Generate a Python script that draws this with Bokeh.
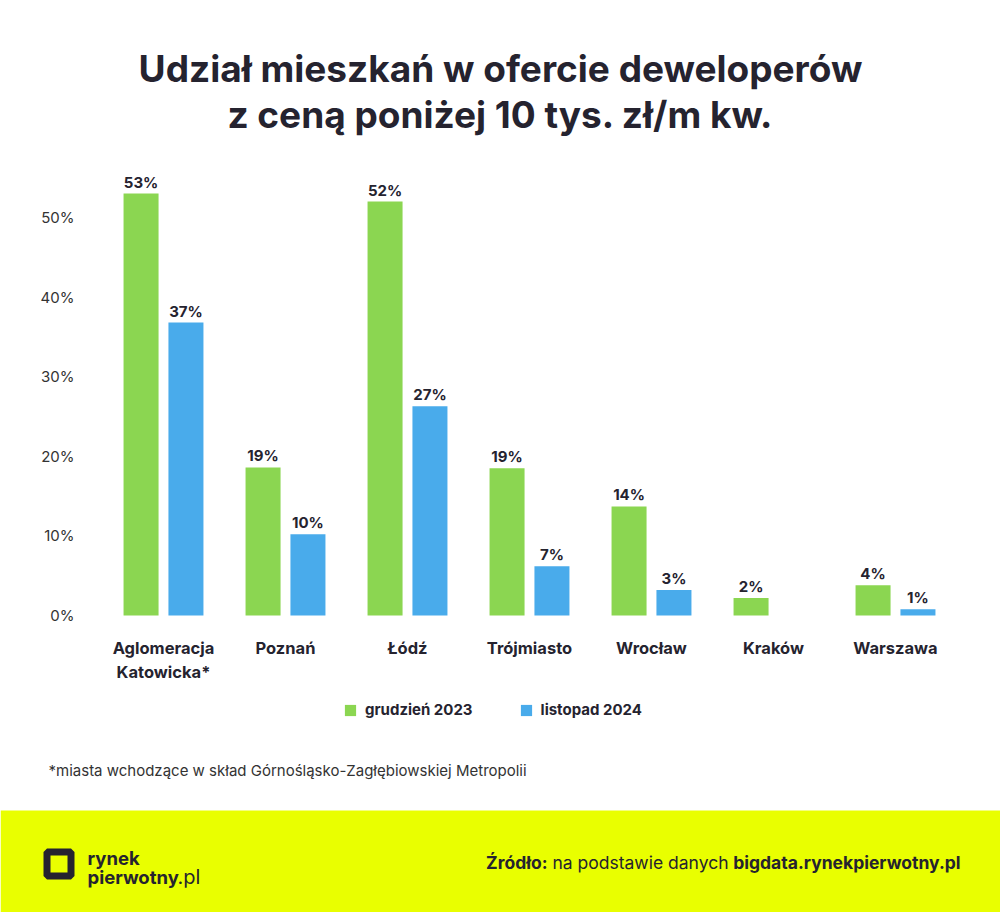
import numpy as np
from bokeh.plotting import figure
from bokeh.models import (ColumnDataSource, Range1d, FixedTicker, PrintfTickFormatter,
                          Label, LabelSet, Legend, LegendItem, BoxAnnotation)
from bokeh.core.properties import value
from bokeh.embed import file_html
from bokeh.resources import INLINE

# ---------------- data ----------------
title_lines = ["Udział mieszkań w ofercie deweloperów", "z ceną poniżej 10 tys. zł/m kw."]
cities = ["Aglomeracja\nKatowicka*", "Poznań", "Łódź", "Trójmiasto", "Wrocław", "Kraków", "Warszawa"]
dec_2023 = [53.0, 18.6, 52.0, 18.5, 13.7, 2.2, 3.8]
nov_2024 = [36.8, 10.2, 26.3, 6.2, 3.2, 0.0, 0.8]
dec_2023_labels = ["53%", "19%", "52%", "19%", "14%", "2%", "4%"]
nov_2024_labels = ["37%", "10%", "27%", "7%", "3%", "", "1%"]
series_names = ["grudzień 2023", "listopad 2024"]
y_ticks = [0, 10, 20, 30, 40, 50]
footnote = "*miasta wchodzące w skład Górnośląsko-Zagłębiowskiej Metropolii"
source_parts = ["Źródło:", "na podstawie danych", "bigdata.rynekpierwotny.pl"]
logo_parts = ["rynek", "pierwotny", ".pl"]

# ---------------- layout / style ----------------
W, H = 1000, 912
FONT = "Inter"
GREEN = "#8BD651"
BLUE = "#49ABEB"
DARK = "#25232F"
YELLOW = "#E9FF00"

PX_X = 122.0      # pixels per category
PX_Y = 7.96       # pixels per percentage point
LEFT0 = 102.0     # pixel x of the first category's left edge
BASE = 615.0      # pixel y of 0 %

def sy(page_y):
    return H - page_y

n = len(cities)
centers = np.arange(n) + 0.5
OFF = 0.184
BW = 0.287

src = ColumnDataSource(dict(xa=centers - OFF, xb=centers + OFF, a=dec_2023, b=nov_2024,
                            la=dec_2023_labels, lb=nov_2024_labels))

p = figure(width=W, height=H,
           x_range=Range1d(-LEFT0 / PX_X, (W - LEFT0) / PX_X),
           y_range=Range1d(-(H - BASE) / PX_Y, BASE / PX_Y),
           output_backend="svg", toolbar_location=None, min_border=0)
p.title.visible = False
p.outline_line_color = None
p.xgrid.grid_line_color = None
p.ygrid.grid_line_color = None
p.background_fill_color = "white"
p.border_fill_color = "white"

r1 = p.vbar(x="xa", top="a", width=BW, source=src, fill_color=GREEN, line_color=None)
r2 = p.vbar(x="xb", top="b", width=BW, source=src, fill_color=BLUE, line_color=None)

for xc, col, lab in (("xa", "a", "la"), ("xb", "b", "lb")):
    p.add_layout(LabelSet(x=xc, y=col, text=lab, source=src, y_offset=6,
                          text_align="center", text_baseline="alphabetic",
                          text_font=value(FONT), text_font_style="bold",
                          text_font_size="15px", text_color=DARK))

# axes (fixed at the data origin)
ya = p.yaxis[0]
ya.fixed_location = 0
ya.ticker = FixedTicker(ticks=y_ticks)
ya.formatter = PrintfTickFormatter(format="%d%%")
ya.axis_line_color = None
ya.major_tick_line_color = None
ya.minor_tick_line_color = None
ya.major_tick_out = 0
ya.major_tick_in = 0
ya.major_label_standoff = 28
ya.major_label_text_font = FONT
ya.major_label_text_font_size = "15px"
ya.major_label_text_color = "#333333"

xa = p.xaxis[0]
xa.fixed_location = 0
xa.ticker = FixedTicker(ticks=list(centers))
xa.major_label_overrides = {float(c): name for c, name in zip(centers, cities)}
xa.axis_line_color = None
xa.major_tick_line_color = None
xa.minor_tick_line_color = None
xa.major_tick_out = 0
xa.major_tick_in = 0
xa.major_label_standoff = 22
xa.major_label_text_font = FONT
xa.major_label_text_font_size = "16.5px"
xa.major_label_text_font_style = "bold"
xa.major_label_text_color = DARK

# title
for txt, y in zip(title_lines, (68, 114)):
    p.add_layout(Label(x=500, y=sy(y), x_units="screen", y_units="screen", text=txt,
                       text_align="center", text_baseline="alphabetic",
                       text_font=FONT, text_font_style="bold", text_font_size="37px",
                       text_color=DARK))

# legend
legend = Legend(items=[LegendItem(label=series_names[0], renderers=[r1]),
                       LegendItem(label=series_names[1], renderers=[r2])],
                location=(343, sy(719)), orientation="horizontal",
                glyph_width=14, glyph_height=14, label_height=14,
                label_standoff=8, spacing=46, padding=0, margin=0,
                border_line_color=None, background_fill_alpha=0,
                label_text_font=FONT, label_text_font_size="15px",
                label_text_font_style="bold", label_text_color=DARK)
p.add_layout(legend, "center")

# footnote
p.add_layout(Label(x=48, y=sy(770), x_units="screen", y_units="screen", text=footnote,
                   text_align="left", text_baseline="middle", text_font=FONT,
                   text_font_size="15px", text_color="#333333"))

# ---------------- footer band ----------------
p.add_layout(BoxAnnotation(left=0, right=W, bottom=0, top=sy(810),
                           left_units="screen", right_units="screen",
                           bottom_units="screen", top_units="screen",
                           fill_color=YELLOW, fill_alpha=1, line_color=None))
p.add_layout(BoxAnnotation(left=46.5, right=70.5, bottom=sy(875.5), top=sy(851.5),
                           left_units="screen", right_units="screen",
                           bottom_units="screen", top_units="screen",
                           fill_alpha=0, line_color=DARK, line_width=7, line_alpha=1))

for txt, x, y, style, size in ((logo_parts[0], 87, 857, "bold", "18.5px"),
                               (logo_parts[1], 87, 876, "bold", "18.5px"),
                               (logo_parts[2], 177, 876, "normal", "20px")):
    p.add_layout(Label(x=x, y=sy(y), x_units="screen", y_units="screen", text=txt,
                       text_align="left", text_baseline="middle", text_font=FONT,
                       text_font_style=style, text_font_size=size, text_color=DARK))

for txt, x, style in ((source_parts[2], 960, "bold"),
                      (source_parts[1], 728, "normal"),
                      (source_parts[0], 547, "bold")):
    p.add_layout(Label(x=x, y=sy(862), x_units="screen", y_units="screen", text=txt,
                       text_align="right", text_baseline="middle", text_font=FONT,
                       text_font_style=style, text_font_size="17.5px", text_color=DARK))

open("out.html", "w").write(file_html(p, INLINE))
